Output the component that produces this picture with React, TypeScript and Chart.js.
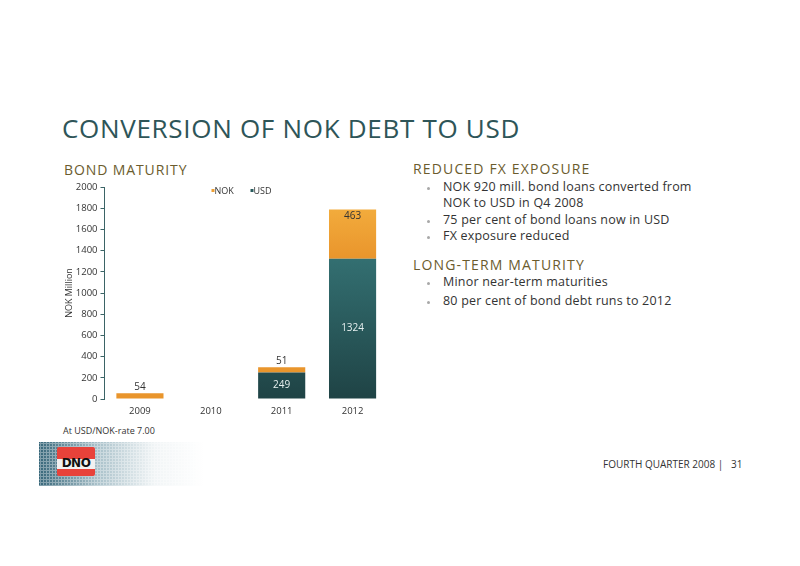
import React, { useEffect, useRef } from "react";
import { Chart, registerables } from "chart.js";

Chart.register(...registerables);

const years = ["2009", "2010", "2011", "2012"];
const nokValues = [54, 0, 51, 463];
const usdValues = [0, 0, 249, 1324];
const yMax = 2000;
const yStep = 200;

const FONT = "'Open Sans', sans-serif";
const TEAL = "#2e5558";
const OLIVE = "#6b5c2e";

const barLabels = {
  id: "barLabels",
  afterDatasetsDraw(chart: Chart) {
    const ctx = chart.ctx;
    const area = chart.chartArea;
    ctx.save();
    ctx.font = "10px " + FONT;
    ctx.textAlign = "center";
    ctx.textBaseline = "middle";
    chart.data.datasets.forEach((ds, i) => {
      const meta = chart.getDatasetMeta(i);
      meta.data.forEach((bar: any, j) => {
        const v = ds.data[j] as number;
        if (!v) return;
        const { x, y, base } = bar.getProps(["x", "y", "base"], true);
        const h = base - y;
        if (ds.label === "USD") {
          ctx.fillStyle = "#e6efef";
          ctx.fillText(String(v), x, (y + base) / 2);
        } else if (h > 25) {
          ctx.fillStyle = "#333";
          ctx.fillText(String(v), x, y + 7);
        } else {
          ctx.fillStyle = "#333";
          ctx.fillText(String(v), x, y - 6);
        }
      });
    });

    // legend, NOK first then USD
    ctx.font = "9px " + FONT;
    ctx.textAlign = "left";
    let lx = area.left + 107;
    const ly = area.top + 4;
    const items = [
      { label: "NOK", color: "#eea035" },
      { label: "USD", color: "#2a5c5e" },
    ];
    items.forEach((it) => {
      ctx.fillStyle = it.color;
      ctx.fillRect(lx, ly - 2, 3, 3);
      ctx.fillStyle = "#333";
      ctx.fillText(it.label, lx + 3, ly);
      lx += 39;
    });
    ctx.restore();
  },
};

const BondChart = () => {
  const canvasRef = useRef<HTMLCanvasElement>(null);
  const chartRef = useRef<Chart | null>(null);

  useEffect(() => {
    if (!canvasRef.current) return;
    chartRef.current?.destroy();

    const gradient = (chart: Chart, from: number, to: number, top: string, bottom: string) => {
      const y = chart.scales.y;
      if (!y || !chart.chartArea) return bottom;
      const y0 = y.getPixelForValue(to);
      const y1 = y.getPixelForValue(from);
      if (!isFinite(y0) || !isFinite(y1)) return bottom;
      const g = chart.ctx.createLinearGradient(0, y0, 0, y1);
      g.addColorStop(0, top);
      g.addColorStop(1, bottom);
      return g;
    };

    const usdTop = Math.max(...usdValues);
    const nokTop = Math.max(...years.map((_, i) => usdValues[i] + nokValues[i]));

    chartRef.current = new Chart(canvasRef.current, {
      type: "bar",
      data: {
        labels: years,
        datasets: [
          {
            label: "USD",
            data: usdValues,
            backgroundColor: (c: any) => gradient(c.chart, 0, usdTop, "#336f71", "#1f4345"),
            barPercentage: 0.665,
            categoryPercentage: 1,
          },
          {
            label: "NOK",
            data: nokValues,
            backgroundColor: (c: any) => gradient(c.chart, usdTop, nokTop, "#f2ab3c", "#e9952c"),
            barPercentage: 0.665,
            categoryPercentage: 1,
          },
        ],
      },
      options: {
        responsive: false,
        animation: false,
        layout: { padding: { left: 10, right: 7, top: 10, bottom: 3 } },
        plugins: {
          legend: { display: false },
          tooltip: { enabled: false },
        },
        scales: {
          x: {
            stacked: true,
            grid: { display: false, drawTicks: false },
            border: { display: false },
            ticks: { color: "#333", font: { family: FONT, size: 9.5 }, padding: 7 },
            afterFit: (s: any) => {
              s.height = 20;
            },
          },
          y: {
            stacked: true,
            min: 0,
            max: yMax,
            ticks: {
              stepSize: yStep,
              color: "#333",
              font: { family: FONT, size: 9.5 },
              padding: 3,
              callback: (v: any) => String(v),
            },
            grid: { drawOnChartArea: false, drawTicks: true, tickLength: 4, color: "#3b6466" },
            border: { display: true, color: "#3b6466", width: 1 },
            title: { display: true, text: "NOK Million", color: "#333", font: { family: FONT, size: 9 }, padding: { top: 4, bottom: 0 } },
            afterFit: (s: any) => {
              s.width = 44.5;
            },
          },
        },
      },
      plugins: [barLabels],
    });

    return () => {
      chartRef.current?.destroy();
    };
  }, []);

  return <canvas ref={canvasRef} width={345} height={245} style={{ position: "absolute", left: 50, top: 177 }} />;
};

const txt = (top: number, left: number, size: number, color: string, text: string, extra: any = {}) => (
  <div
    style={{
      position: "absolute",
      top,
      left,
      fontSize: size,
      lineHeight: size + "px",
      color,
      whiteSpace: "nowrap",
      fontFamily: FONT,
      ...extra,
    }}
  >
    {text}
  </div>
);

const bullets1 = ["NOK 920 mill. bond loans converted from", "75 per cent of bond loans now in USD", "FX exposure reduced"];
const bullets2 = ["Minor near-term maturities", "80 per cent of bond debt runs to 2012"];

const body = { letterSpacing: 0.2 };
const head = { letterSpacing: 1.15 };

const Bullet = ({ top, text, second }: { top: number; text: string; second?: string }) => (
  <>
    <div style={{ position: "absolute", top: top - 0.5, left: 427, width: 3, height: 3, borderRadius: 2, background: "#a8a8a8" }} />
    {txt(top - 6.5, 443, 12.5, "#333", text, body)}
    {second ? txt(top + 9.5, 443, 12.5, "#333", second, body) : null}
  </>
);

export default function App() {
  return (
    <div
      style={{
        position: "fixed",
        left: 0,
        top: 0,
        width: 800,
        height: 566,
        background: "#fff",
        overflow: "hidden",
        fontFamily: FONT,
      }}
    >
      {txt(115, 62, 26, TEAL, "CONVERSION OF NOK DEBT TO USD", { letterSpacing: 0.7 })}
      {txt(162.5, 64, 14, OLIVE, "BOND MATURITY", { letterSpacing: 0.9 })}
      {txt(161.5, 413, 14, OLIVE, "REDUCED FX EXPOSURE", head)}
      <Bullet top={187} text={bullets1[0]} second="NOK to USD in Q4 2008" />
      <Bullet top={220} text={bullets1[1]} />
      <Bullet top={236.5} text={bullets1[2]} />
      {txt(257.5, 413, 14, OLIVE, "LONG-TERM MATURITY", head)}
      <Bullet top={282.5} text={bullets2[0]} />
      <Bullet top={301} text={bullets2[1]} />

      <BondChart />

      {txt(426, 63, 9, "#333", "At USD/NOK-rate 7.00")}

      <div
        style={{
          position: "absolute",
          left: 39,
          top: 442,
          width: 165,
          height: 44,
          background:
            "radial-gradient(circle, rgba(255,255,255,0.35) 1px, transparent 1.3px) 0 0/3px 3px, linear-gradient(to right, rgba(45,95,115,0.95) 0%, rgba(110,150,165,0.6) 35%, rgba(200,215,220,0.25) 70%, rgba(255,255,255,0) 100%)",
        }}
      />
      <div
        style={{
          position: "absolute",
          left: 57,
          top: 447,
          width: 38,
          height: 29,
          background: "#e8423a",
          borderRadius: 2,
        }}
      >
        <div style={{ position: "absolute", left: 0, top: 12, width: 38, height: 10, background: "#f1f1f1" }} />
        <div
          style={{
            position: "absolute",
            left: 0,
            top: 10,
            width: 38,
            textAlign: "center",
            fontFamily: "'DejaVu Sans', sans-serif",
            fontWeight: 700,
            fontSize: 12,
            lineHeight: "13px",
            color: "#111",
            letterSpacing: -0.5,
          }}
        >
          DNO
        </div>
      </div>

      {txt(458.5, 603, 10, "#333", "FOURTH QUARTER 2008 |   31", { whiteSpace: "pre" })}
    </div>
  );
}
